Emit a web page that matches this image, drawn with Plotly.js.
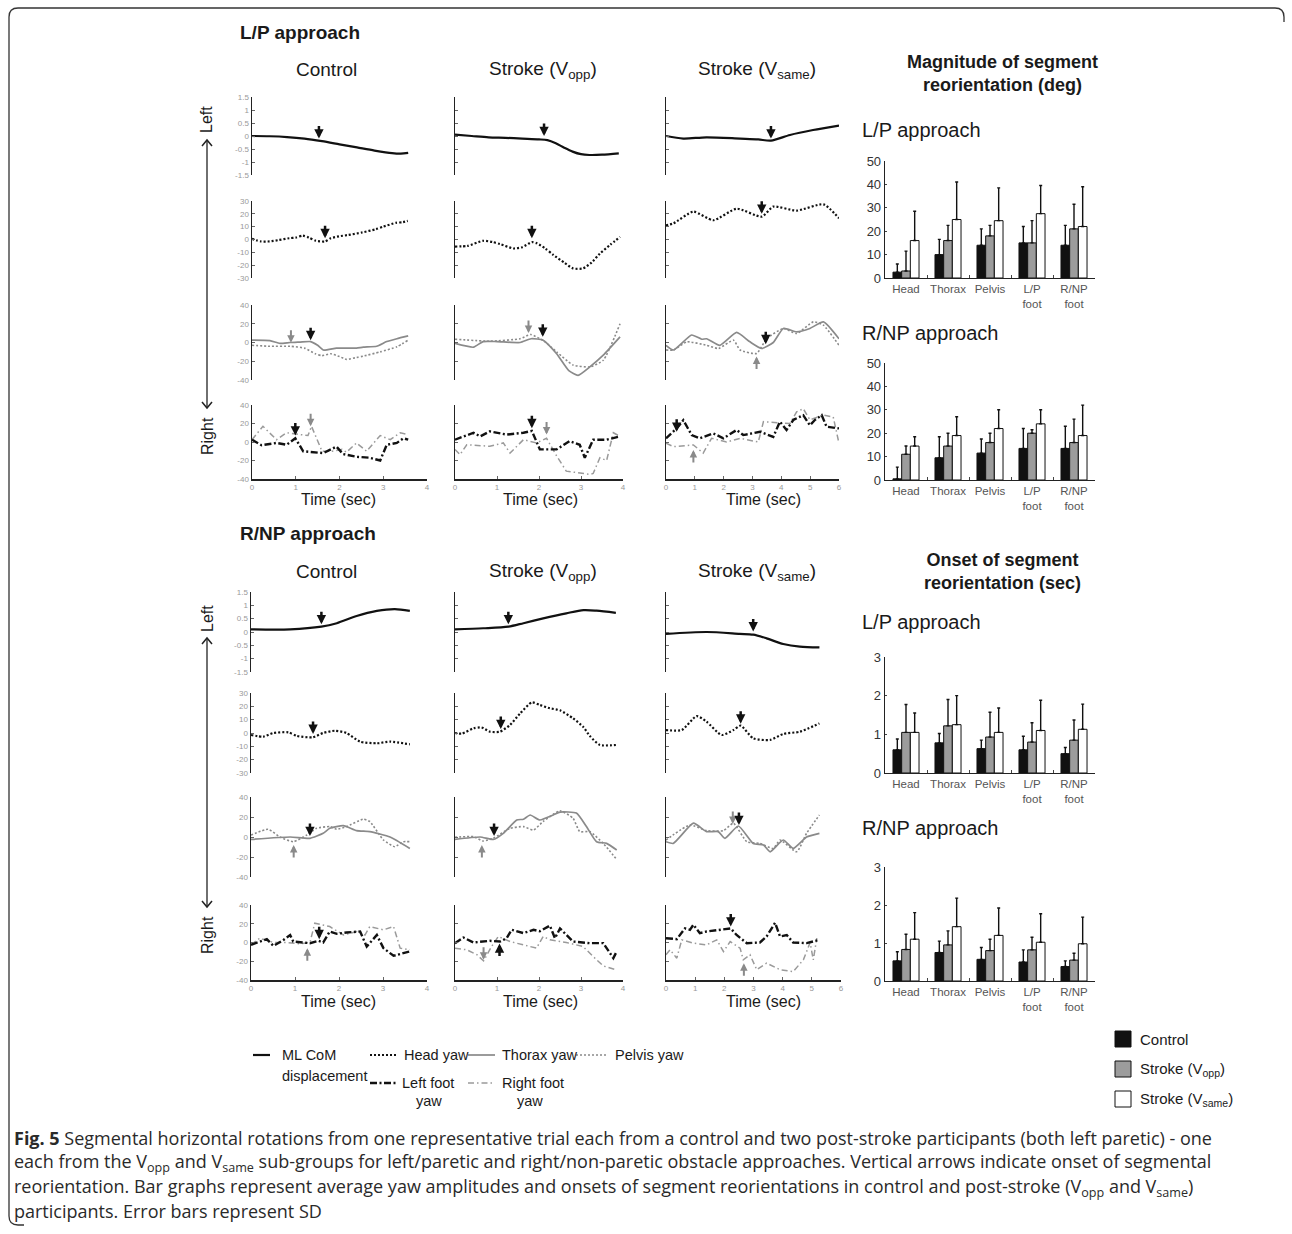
<!DOCTYPE html>
<html><head><meta charset="utf-8">
<script src="https://cdn.plot.ly/plotly-3.0.1.min.js"></script>
<style>html,body{margin:0;padding:0;background:#fff;}#chart{width:1292px;height:1234px;}</style>
</head><body><div id="chart"></div>
<script>
// ===================== DATA: L/P approach (top) =====================
// Control
const lpC_com_t = [0,0.4,0.8,1.2,1.6,2.0,2.4,2.8,3.2,3.4,3.57];
const lpC_com_y = [0,-0.01,-0.04,-0.1,-0.2,-0.32,-0.44,-0.56,-0.66,-0.68,-0.65];
const lpC_head_t = [0,0.2,0.4,0.6,0.85,1.0,1.16,1.3,1.46,1.67,1.8,1.99,2.2,2.52,2.83,3.0,3.29,3.45,3.56];
const lpC_head_y = [0.5,-1.5,-1.5,-0.5,1,1.5,3,1.5,-1,-1.5,1,2.5,3.5,5.5,8,10,13,13.5,14.5];
const lpC_thx_t = [0,0.41,0.64,0.87,1.1,1.34,1.5,1.63,1.93,2.16,2.39,2.54,2.85,3.08,3.31,3.57];
const lpC_thx_y = [2.5,2,-1,0,0.5,1,-3,-8,-6,-6,-6,-5,-4,1,4,7];
const lpC_pel_t = [0,0.41,0.87,1.2,1.45,1.6,1.8,2.0,2.16,2.39,2.54,2.93,3.31,3.57];
const lpC_pel_y = [-3,-4,-4,-6,-12,-14,-12,-15,-18,-16,-14.6,-10,-4.6,2.5];
const lpC_lf_t = [0,0.22,0.56,0.79,0.99,1.17,1.63,1.93,2.08,2.39,2.69,2.93,3.08,3.31,3.46,3.57];
const lpC_lf_y = [2.5,-3.5,-1,-3,4,-10,-12,-5,-13,-16,-17,-20,-3,-1,4,2.5];
const lpC_rf_t = [0,0.25,0.56,0.79,1.1,1.28,1.36,1.6,1.83,2.06,2.16,2.39,2.62,2.93,3.16,3.39,3.57];
const lpC_rf_y = [2.5,17,2.5,10,8,7,17,-10,-10,-8,-11,-1,-10,7,2.5,10,8];
// Stroke (Vopp)
const lpO_com_t = [0,0.4,0.8,1.2,1.6,2.0,2.2,2.4,2.6,2.8,3.0,3.2,3.5,3.9];
const lpO_com_y = [0.05,0,-0.05,-0.07,-0.1,-0.13,-0.16,-0.28,-0.45,-0.6,-0.7,-0.73,-0.72,-0.67];
const lpO_head_t = [0,0.3,0.67,0.9,1.07,1.39,1.6,1.83,1.95,2.15,2.34,2.6,2.81,3.05,3.25,3.45,3.7,3.93];
const lpO_head_y = [-5.5,-5,-1,-2,-3.5,-7,-6,-2,-3,-7,-12,-18,-22.5,-22.5,-18,-11,-4,2];
const lpO_thx_t = [0,0.44,0.67,1.0,1.55,1.81,2.1,2.42,2.71,2.93,3.21,3.53,3.93];
const lpO_thx_y = [-1,-5,1,1,0,4,2.5,-12,-30,-35,-26,-13.5,6];
const lpO_pel_t = [0,0.83,1.55,1.8,2.1,2.42,2.81,3.21,3.53,3.93];
const lpO_pel_y = [3.5,1.4,4,8.5,2,-10,-24,-26,-19,20];
const lpO_lf_t = [0,0.44,0.6,0.83,1.23,1.63,1.83,2.02,2.42,2.73,2.97,3.09,3.29,3.61,3.93];
const lpO_lf_y = [2.5,10,6,11.5,8,10,12,-8,-8,1,-3,-17,2.5,2.5,6];
const lpO_rf_t = [0,0.12,0.28,0.83,1.15,1.31,1.63,1.94,2.18,2.42,2.65,3.21,3.29,3.45,3.61,3.77,3.93];
const lpO_rf_y = [-8,-13.6,-3,-4.6,-1,-12,2.5,-1,4,-15,-31.5,-35,-34,-17,-20,10,6];
// Stroke (Vsame)
const lpS_com_t = [0,0.6,1.4,2.57,3.2,3.64,4.3,5.1,6.0];
const lpS_com_y = [0,-0.1,-0.05,-0.1,-0.13,-0.18,0.04,0.23,0.4];
const lpS_head_t = [0,0.26,0.95,1.64,2.45,3.32,3.72,4.53,5.46,6.0];
const lpS_head_y = [11,12.6,21.7,15,24,17.8,25.6,22.5,27.4,16.5];
const lpS_thx_t = [0,0.26,0.89,1.24,1.41,1.87,2.45,2.91,3.32,3.72,4.07,4.53,4.99,5.46,6.0];
const lpS_thx_y = [-3,-8,8,3.5,4,-3,10.7,0.7,-6.4,0,15,11.4,15,22,4];
const lpS_pel_t = [0,0.26,0.72,1.41,1.82,2.34,2.57,3.14,3.49,4.07,4.53,5.11,5.46,6.0];
const lpS_pel_y = [-8,-8,0.7,-3,-6.4,2.5,-8,-11.7,4,15,9.6,22,18.5,-3];
const lpS_lf_t = [0,0.37,0.6,0.89,1.18,1.64,1.99,2.45,2.68,3.26,3.72,3.95,4.18,4.42,4.76,4.99,5.17,5.4,5.57,6.0];
const lpS_lf_y = [4,14.7,23.6,7.5,4,9.3,4,13,7.5,11,5.5,22,13,24,29,18,24,29,16.5,14.7];
const lpS_rf_t = [0,0.26,0.95,1.29,1.58,2.1,2.57,3.2,3.38,4.3,4.53,4.76,4.99,5.46,5.8,6.0];
const lpS_rf_y = [-1.4,-5,-3.2,-12,4,0,4,0,22,20,32.6,36,24,29,27,-1.4];

// ===================== DATA: R/NP approach (bottom) =====================
const rnC_com_t = [0,0.89,1.6,1.95,2.4,2.86,3.27,3.61];
const rnC_com_y = [0.1,0.1,0.2,0.33,0.6,0.79,0.86,0.79];
const rnC_head_t = [0,0.28,0.51,0.85,1.04,1.4,1.64,1.91,2.17,2.48,2.86,3.16,3.61];
const rnC_head_y = [-1.5,-2.7,0,0.5,-2.2,-3.2,0,1.7,0,-6.5,-7.7,-6.5,-8.5];
const rnC_thx_t = [0,0.89,1.34,1.64,1.79,2.1,2.4,2.7,3.16,3.61];
const rnC_thx_y = [-2.4,0,-1.3,3.7,8.7,11.4,6.4,5.4,0,-11.4];
const rnC_pel_t = [0,0.39,0.66,0.96,1.27,1.49,1.79,1.95,2.17,2.55,2.7,3.01,3.27,3.46,3.61];
const rnC_pel_y = [2,7.7,0,-4.7,2,8.7,10.4,7.7,10.4,17.8,15.5,-3,-9.7,-4.7,-4.7];
const rnC_lf_t = [0,0.36,0.51,0.73,0.89,0.96,1.19,1.34,1.53,1.64,1.79,1.95,2.17,2.48,2.63,2.86,3.01,3.24,3.46,3.61];
const rnC_lf_y = [-2.5,3.6,-3.6,2.5,8,1,0,-0.7,1.8,0,11.7,9.3,10.7,11.7,-4.3,8,-6,-14.2,-11.4,-9.6];
const rnC_rf_t = [0,0.2,0.51,0.81,1.11,1.34,1.45,1.79,2.1,2.4,2.59,2.7,3.01,3.24,3.39,3.61];
const rnC_rf_y = [-2.5,4.6,0,0,-1.4,0,20.6,17,8,11.7,8,17,13.5,17,-6,-7.8];
const rnO_com_t = [0,0.67,1.27,1.63,2.1,2.65,3.06,3.37,3.83];
const rnO_com_y = [0.1,0.14,0.2,0.33,0.51,0.7,0.82,0.8,0.72];
const rnO_head_t = [0,0.16,0.44,0.63,0.83,1.07,1.31,1.55,1.83,2.02,2.26,2.5,2.81,3.05,3.21,3.45,3.83];
const rnO_head_y = [0,-0.5,3.5,4.2,1,1,6,14.7,23,21,18.5,17,11,4.7,-2.2,-9,-9];
const rnO_thx_t = [0,0.6,0.91,1.15,1.47,1.63,1.79,2.02,2.34,2.5,2.89,3.13,3.37,3.61,3.85];
const rnO_thx_y = [-2.4,0,-2.4,3.7,17,17.8,22,17,22,24.9,23.9,10.4,-4.7,-6.4,-13];
const rnO_pel_t = [0,0.44,0.67,0.91,1.31,1.63,1.87,2.1,2.5,2.81,2.97,3.21,3.53,3.85];
const rnO_pel_y = [-0.3,0.3,-4,-1.3,8.7,10.4,7,15.5,26.2,18.8,5.4,5.4,-6.4,-22.5];
const rnO_lf_t = [0,0.2,0.44,0.83,1.07,1.23,1.35,1.63,1.87,2.02,2.26,2.38,2.5,2.81,3.21,3.53,3.77,3.85];
const rnO_lf_y = [-0.7,5.3,0,1.8,1,4.6,13.5,10,13.5,12,18,4.6,15,1,-0.7,-0.7,-16.7,-9.6];
const rnO_rf_t = [0,0.28,0.52,0.68,0.87,1.03,1.31,1.63,1.94,2.1,2.26,2.65,3.05,3.29,3.53,3.83];
const rnO_rf_y = [-6,-7.8,-13,-19.6,-4.3,6.4,1,-2.5,-6,6.4,3,0,-4.3,-15,-25,-29];
const rnS_com_t = [0,1.39,2.53,2.99,3.45,4.02,4.59,5.26];
const rnS_com_y = [-0.07,0,-0.07,-0.1,-0.24,-0.45,-0.55,-0.58];
const rnS_head_t = [0,0.54,1.05,1.39,1.91,2.31,2.56,2.99,3.57,4.02,4.59,5.26];
const rnS_head_y = [2.2,2.2,12.7,8.5,-1.5,2.2,5.5,-4,-5.2,-0.7,1,7.2];
const rnS_thx_t = [0,0.25,0.94,1.39,1.79,2.02,2.48,2.99,3.34,3.57,4.02,4.36,4.82,5.26];
const rnS_thx_y = [-4.7,-6.4,13.8,5.4,5.4,-1.3,11,-6.4,-8,-14.8,-3,-11.4,0,3.7];
const rnS_pel_t = [0,0.82,1.39,1.97,2.31,2.77,3.22,3.68,3.91,4.48,4.82,5.26];
const rnS_pel_y = [-3,12,6.4,6.4,13.8,-4.7,-6.4,-11.4,-3,-14.8,3.7,22];
const rnS_lf_t = [0,0.37,0.65,0.82,0.94,1.16,1.39,1.97,2.22,2.42,2.77,3.22,3.45,3.74,3.91,4.14,4.36,4.82,5.26];
const rnS_lf_y = [4.6,3.6,15,13.5,19,10,11.7,13.5,15,8,-0.7,0,6.4,21,6.4,8,0,-0.7,2.8];
const rnS_rf_t = [0,0.14,0.37,0.54,0.94,1.39,1.74,1.97,2.2,2.54,2.65,2.88,3.11,3.45,3.91,4.36,4.71,4.94,5.05,5.17];
const rnS_rf_y = [-13,-7.8,-16.7,2.8,-0.7,-2.5,2.8,-9.6,1,-6,-18.5,-13,-29,-22,-29,-31,-18.5,0,-18.5,4.6];

// Onset arrows (column, row, time, tip value, gray?, pointing up?)
const lpArrCol  = [0,0,0,0,0,0, 1,1,1,1,1,1, 2,2,2,2,2,2];
const lpArrRow  = [0,1,2,2,3,3, 0,1,2,2,3,3, 0,1,2,2,3,3];
const lpArrT    = [1.53,1.67,0.89,1.34,0.99,1.34, 2.12,1.83,1.75,2.09,1.83,2.18, 3.64,3.32,3.46,3.14,0.37,0.95];
const lpArrY    = [-0.1,1,-0.4,2.5,7,17, 0,1,10,6,15,8, -0.1,20,-1.8,-15,11,-8.6];
const lpArrGray = [0,0,1,0,0,1, 0,0,1,0,0,1, 0,0,0,1,0,1];
const lpArrUp   = [0,0,0,0,0,0, 0,0,0,0,0,0, 0,0,0,1,0,1];
const rnArrCol  = [0,0,0,0,0,0, 1,1,1,1,1,1, 2,2,2,2,2,2];
const rnArrRow  = [0,1,2,2,3,3, 0,1,2,2,3,3, 0,1,2,2,3,3];
const rnArrT    = [1.6,1.41,1.34,0.97,1.55,1.28, 1.27,1.09,0.93,0.64,0.68,1.06, 2.99,2.56,2.29,2.5,2.22,2.67];
const rnArrY    = [0.29,-0.7,1,-8,3.6,-6, 0.29,3,1,-8,-18.5,-1, 0.02,7,13,12,17,-22];
const rnArrGray = [0,0,0,1,0,1, 0,0,0,1,1,0, 0,0,1,0,0,1];
const rnArrUp   = [0,0,0,1,0,1, 0,0,0,1,0,1, 0,0,0,0,0,1];

// ===================== DATA: bar graphs =====================
const barCats = ['Head','Thorax','Pelvis','L/P<br>foot','R/NP<br>foot'];
const groupNames = ['Control','Stroke (V<sub>opp</sub>)','Stroke (V<sub>same</sub>)'];
// Magnitude (deg), L/P approach
const magLP_ctl = [2.5,10,14,15,14];      const magLP_ctl_sd = [3.5,6.5,7,7,8.5];
const magLP_opp = [3,16,18,15,21];        const magLP_opp_sd = [8.5,6.5,4.5,9.5,10.5];
const magLP_same = [16,25,24.5,27.5,22];  const magLP_same_sd = [12.5,16,14,12,17];
// Magnitude (deg), R/NP approach
const magRN_ctl = [0.5,9.5,11.5,13.5,13.5]; const magRN_ctl_sd = [5,9,6,8.5,9.5];
const magRN_opp = [11,14.5,16,20,16];       const magRN_opp_sd = [3.5,5.5,4,1.5,10];
const magRN_same = [14.5,19,22,24,19];      const magRN_same_sd = [4,8,8,6,13];
// Onset (sec), L/P approach
const onLP_ctl = [0.6,0.78,0.63,0.6,0.5];   const onLP_ctl_sd = [0.28,0.24,0.22,0.35,0.16];
const onLP_opp = [1.05,1.22,0.93,0.8,0.85]; const onLP_opp_sd = [0.72,0.68,0.64,0.5,0.52];
const onLP_same = [1.05,1.25,1.05,1.1,1.13];const onLP_same_sd = [0.5,0.75,0.63,0.78,0.65];
// Onset (sec), R/NP approach
const onRN_ctl = [0.53,0.75,0.57,0.5,0.38]; const onRN_ctl_sd = [0.24,0.3,0.31,0.32,0.15];
const onRN_opp = [0.83,0.95,0.8,0.82,0.55]; const onRN_opp_sd = [0.4,0.37,0.3,0.33,0.18];
const onRN_same = [1.1,1.43,1.2,1.02,0.98]; const onRN_same_sd = [0.7,0.75,0.72,0.75,0.7];

// ===================== LAYOUT =====================
const W = 1292, H = 1234;
const FONT = 'Liberation Sans, Arial, sans-serif';
const px = x => x / W;
const py = y => 1 - y / H;

const blocks = {
  lp: [
    {com:[lpC_com_t,lpC_com_y], head:[lpC_head_t,lpC_head_y], thx:[lpC_thx_t,lpC_thx_y], pel:[lpC_pel_t,lpC_pel_y], lf:[lpC_lf_t,lpC_lf_y], rf:[lpC_rf_t,lpC_rf_y]},
    {com:[lpO_com_t,lpO_com_y], head:[lpO_head_t,lpO_head_y], thx:[lpO_thx_t,lpO_thx_y], pel:[lpO_pel_t,lpO_pel_y], lf:[lpO_lf_t,lpO_lf_y], rf:[lpO_rf_t,lpO_rf_y]},
    {com:[lpS_com_t,lpS_com_y], head:[lpS_head_t,lpS_head_y], thx:[lpS_thx_t,lpS_thx_y], pel:[lpS_pel_t,lpS_pel_y], lf:[lpS_lf_t,lpS_lf_y], rf:[lpS_rf_t,lpS_rf_y]}
  ],
  rn: [
    {com:[rnC_com_t,rnC_com_y], head:[rnC_head_t,rnC_head_y], thx:[rnC_thx_t,rnC_thx_y], pel:[rnC_pel_t,rnC_pel_y], lf:[rnC_lf_t,rnC_lf_y], rf:[rnC_rf_t,rnC_rf_y]},
    {com:[rnO_com_t,rnO_com_y], head:[rnO_head_t,rnO_head_y], thx:[rnO_thx_t,rnO_thx_y], pel:[rnO_pel_t,rnO_pel_y], lf:[rnO_lf_t,rnO_lf_y], rf:[rnO_rf_t,rnO_rf_y]},
    {com:[rnS_com_t,rnS_com_y], head:[rnS_head_t,rnS_head_y], thx:[rnS_thx_t,rnS_thx_y], pel:[rnS_pel_t,rnS_pel_y], lf:[rnS_lf_t,rnS_lf_y], rf:[rnS_rf_t,rnS_rf_y]}
  ]
};
const arrows = {
  lp: {c:lpArrCol, r:lpArrRow, t:lpArrT, y:lpArrY, g:lpArrGray, u:lpArrUp},
  rn: {c:rnArrCol, r:rnArrRow, t:rnArrT, y:rnArrY, g:rnArrGray, u:rnArrUp}
};
const colPx = {lp:[[252,427],[455,623],[666,839]], rn:[[251,427],[455,623],[666,841]]};
const rowPx = {lp:[[97,175],[201,278],[305,380],[405,479]], rn:[[592,672],[693,773],[797,877],[905,980]]};
const yRanges = [[-1.5,1.5],[-30,30],[-40,40],[-40,40]];
const yTicks = [[-1.5,-1,-0.5,0,0.5,1,1.5],[-30,-20,-10,0,10,20,30],[-40,-20,0,20,40],[-40,-20,0,20,40]];
const xMax = [4,4,6];
const rowCurves = [['com'],['head'],['pel','thx'],['rf','lf']];
const styles = {
  com:  {color:'#111', width:2.2, shape:'spline', smoothing:0.8},
  head: {color:'#111', width:2.2, dash:'2px,2px', shape:'spline', smoothing:0.6},
  thx:  {color:'#8a8a8a', width:1.7, shape:'spline', smoothing:0.5},
  pel:  {color:'#8a8a8a', width:1.6, dash:'2px,2px', shape:'spline', smoothing:0.5},
  lf:   {color:'#111', width:2.4, dash:'7px,2.5px,2px,2.5px'},
  rf:   {color:'#9a9a9a', width:1.5, dash:'6px,3px,1.5px,3px'}
};

const traces = [];
const layout = {
  width: W, height: H, margin:{l:0,r:0,t:0,b:0},
  paper_bgcolor:'#fff', plot_bgcolor:'rgba(0,0,0,0)',
  showlegend:false, hovermode:false,
  font:{family:FONT, color:'#222'},
  bargap:0.38, bargroupgap:0,
  annotations:[], shapes:[]
};
const ann = layout.annotations, shp = layout.shapes;
const axId = i => (i === 1 ? '' : String(i));

let idx = 0;
const blockStart = {};
['lp','rn'].forEach(b => {
  blockStart[b] = idx;
  for (let c = 0; c < 3; c++) {
    for (let r = 0; r < 4; r++) {
      idx++;
      const xr = 'x' + axId(idx), yr = 'y' + axId(idx);
      const isBottom = r === 3;
      layout['xaxis' + axId(idx)] = {
        domain:[px(colPx[b][c][0]), px(colPx[b][c][1])], range:[0, xMax[c]], anchor:yr,
        visible:isBottom, showline:true, linecolor:'#222', linewidth:1.5,
        ticks:'inside', ticklen:3, tickcolor:'#666', tickwidth:1,
        tickvals:Array.from({length:xMax[c]+1}, (_, k) => k),
        tickfont:{size:8, color:'#999', family:FONT}, ticklabelstandoff:0,
        showgrid:false, zeroline:false, fixedrange:true
      };
      layout['yaxis' + axId(idx)] = {
        domain:[py(rowPx[b][r][1]), py(rowPx[b][r][0])], range:yRanges[r], anchor:xr,
        showline:true, linecolor:'#222', linewidth:1.5,
        ticks:'inside', ticklen:3, tickcolor:'#666', tickwidth:1,
        tickvals:yTicks[r], ticktext:yTicks[r].map(String),
        showticklabels:c === 0, tickfont:{size:8, color:'#999', family:FONT},
        showgrid:false, zeroline:false, fixedrange:true
      };
      rowCurves[r].forEach(k => {
        traces.push({type:'scatter', mode:'lines', x:blocks[b][c][k][0], y:blocks[b][c][k][1],
          xaxis:xr, yaxis:yr, line:styles[k], hoverinfo:'skip', cliponaxis:false});
      });
    }
  }
  const A = arrows[b];
  for (let i = 0; i < A.t.length; i++) {
    const id = blockStart[b] + A.c[i] * 4 + A.r[i] + 1;
    ann.push({x:A.t[i], y:A.y[i], xref:'x' + axId(id), yref:'y' + axId(id), text:'',
      showarrow:true, ax:0, ay:A.u[i] ? 14 : -14, arrowhead:2, arrowsize:0.75,
      arrowwidth:A.g[i] ? 2 : 2.5, arrowcolor:A.g[i] ? '#8a8a8a' : '#111'});
  }
});

// Bar charts
const barSpecs = [
  {top:161, bot:278, range:[0,50], ticks:[0,10,20,30,40,50], data:[[magLP_ctl,magLP_ctl_sd],[magLP_opp,magLP_opp_sd],[magLP_same,magLP_same_sd]]},
  {top:363, bot:480, range:[0,50], ticks:[0,10,20,30,40,50], data:[[magRN_ctl,magRN_ctl_sd],[magRN_opp,magRN_opp_sd],[magRN_same,magRN_same_sd]]},
  {top:657, bot:773, range:[0,3], ticks:[0,1,2,3], data:[[onLP_ctl,onLP_ctl_sd],[onLP_opp,onLP_opp_sd],[onLP_same,onLP_same_sd]]},
  {top:867, bot:981, range:[0,3], ticks:[0,1,2,3], data:[[onRN_ctl,onRN_ctl_sd],[onRN_opp,onRN_opp_sd],[onRN_same,onRN_same_sd]]}
];
const barColors = ['#111111','#9c9c9c','#ffffff'];
barSpecs.forEach(s => {
  idx++;
  const xr = 'x' + axId(idx), yr = 'y' + axId(idx);
  layout['xaxis' + axId(idx)] = {
    domain:[px(885), px(1095)], anchor:yr, type:'category', range:[-0.5,4.5],
    showline:true, linecolor:'#222', linewidth:1.3, ticks:'inside', tickson:'boundaries',
    ticklen:3, tickcolor:'#444', tickangle:0, tickfont:{size:11.5, color:'#555', family:FONT},
    showgrid:false, zeroline:false, fixedrange:true
  };
  layout['yaxis' + axId(idx)] = {
    domain:[py(s.bot), py(s.top)], anchor:xr, range:s.range, tickvals:s.ticks,
    showline:true, linecolor:'#222', linewidth:1.3, ticks:'inside', ticklen:2, tickcolor:'#444',
    tickfont:{size:13, color:'#333', family:FONT},
    showgrid:false, zeroline:false, fixedrange:true
  };
  s.data.forEach((d, g) => {
    traces.push({type:'bar', x:barCats, y:d[0], xaxis:xr, yaxis:yr, name:groupNames[g],
      marker:{color:barColors[g], line:{color:'#111', width:1}},
      error_y:{type:'data', symmetric:false, array:d[1], arrayminus:d[1].map(() => 0),
        color:'#111', thickness:1.4, width:1.5},
      hoverinfo:'skip'});
  });
});

// ---------- text annotations ----------
function txt(text, x, y, size, opts) {
  ann.push(Object.assign({text:text, x:px(x), y:py(y), xref:'paper', yref:'paper', showarrow:false,
    xanchor:'center', yanchor:'middle', font:{family:FONT, size:size, color:'#1a1a1a'}}, opts || {}));
}
txt('<b>L/P approach</b>', 238, 33, 19, {xanchor:'left'});
txt('<b>R/NP approach</b>', 238, 533, 19, {xanchor:'left'});
const colTitles = ['Control','Stroke (V<sub>opp</sub>)','Stroke (V<sub>same</sub>)'];
const colTitleX = [326, 543, 757];
colTitles.forEach((t, i) => { txt(t, colTitleX[i], 70, 19); txt(t, colTitleX[i], 572, 19); });
const timeX = [338, 540, 763];
timeX.forEach(x => { txt('Time (sec)', x, 500, 16); txt('Time (sec)', x, 1001, 16); });
// Left / Right direction labels with arrow
[[120, 140, 408, 436], [619, 638, 907, 935]].forEach(v => {
  txt('Left', 207, v[0], 16, {textangle:-90});
  txt('Right', 207, v[3], 16, {textangle:-90});
  shp.push({type:'line', xref:'paper', yref:'paper', x0:px(207), x1:px(207), y0:py(v[1]), y1:py(v[2]), line:{color:'#222', width:1.3}});
  shp.push({type:'path', xref:'paper', yref:'paper', line:{color:'#222', width:1.5},
    path:`M${px(202)},${py(v[1]+6)} L${px(207)},${py(v[1])} L${px(212)},${py(v[1]+6)}`});
  shp.push({type:'path', xref:'paper', yref:'paper', line:{color:'#222', width:1.5},
    path:`M${px(202)},${py(v[2]-6)} L${px(207)},${py(v[2])} L${px(212)},${py(v[2]-6)}`});
});
// Bar chart titles
txt('<b>Magnitude of segment<br>reorientation (deg)</b>', 1002, 73, 18);
txt('<b>Onset of segment<br>reorientation (sec)</b>', 1002, 572, 18);
txt('L/P approach', 860, 130, 20, {xanchor:'left'});
txt('R/NP approach', 860, 333, 20, {xanchor:'left'});
txt('L/P approach', 860, 622, 20, {xanchor:'left'});
txt('R/NP approach', 860, 828, 20, {xanchor:'left'});
// Bar legend
const barLegY = [1039, 1069, 1099];
barLegY.forEach((y, i) => {
  shp.push({type:'rect', xref:'paper', yref:'paper', x0:px(1115), x1:px(1131), y0:py(y+8), y1:py(y-8),
    fillcolor:barColors[i], line:{color:'#111', width:1}});
  txt(groupNames[i], 1138, y, 15, {xanchor:'left'});
});
// Line legend
function legLine(x0, x1, y, st) {
  shp.push({type:'line', xref:'paper', yref:'paper', x0:px(x0), x1:px(x1), y0:py(y), y1:py(y),
    line:{color:st.color, width:st.width, dash:st.dash || 'solid'}});
}
legLine(253, 270, 1055, styles.com);
txt('ML CoM', 280, 1055, 14.5, {xanchor:'left'});
txt('displacement', 280, 1076, 14.5, {xanchor:'left'});
legLine(370, 397, 1055, styles.head);
txt('Head yaw', 402, 1055, 14.5, {xanchor:'left'});
legLine(468, 495, 1055, styles.thx);
txt('Thorax yaw', 500, 1055, 14.5, {xanchor:'left'});
legLine(576, 608, 1055, styles.pel);
txt('Pelvis yaw', 613, 1055, 14.5, {xanchor:'left'});
legLine(370, 398, 1083, styles.lf);
txt('Left foot', 400, 1083, 14.5, {xanchor:'left'});
txt('yaw', 429, 1101, 14.5);
legLine(468, 495, 1083, styles.rf);
txt('Right foot', 500, 1083, 14.5, {xanchor:'left'});
txt('yaw', 530, 1101, 14.5);
// Caption
const capLines = [
  '<b>Fig. 5</b> Segmental horizontal rotations from one representative trial each from a control and two post-stroke participants (both left paretic) - one',
  'each from the V<sub>opp</sub> and V<sub>same</sub> sub-groups for left/paretic and right/non-paretic obstacle approaches. Vertical arrows indicate onset of segmental',
  'reorientation. Bar graphs represent average yaw amplitudes and onsets of segment reorientations in control and post-stroke (V<sub>opp</sub> and V<sub>same</sub>)',
  'participants. Error bars represent SD'
];
const capY = [1138, 1162, 1187, 1211];
capLines.forEach((t, i) => ann.push({text:t, x:px(12), y:py(capY[i]), xref:'paper', yref:'paper',
  showarrow:false, xanchor:'left', yanchor:'middle', font:{family:'Open Sans, sans-serif', size:18, color:'#2a2a2a'}}));
// Figure frame (rounded corners)
shp.push({type:'path', xref:'paper', yref:'paper', line:{color:'#333', width:1.3},
  path:`M${px(24)},${py(1225)} L${px(18)},${py(1225)} Q${px(9)},${py(1225)} ${px(9)},${py(1216)} L${px(9)},${py(17)} Q${px(9)},${py(8)} ${px(18)},${py(8)} L${px(1275)},${py(8)} Q${px(1284)},${py(8)} ${px(1284)},${py(17)} L${px(1284)},${py(22)}`});

Plotly.newPlot('chart', traces, layout, {staticPlot:true, displayModeBar:false});
</script></body></html>
